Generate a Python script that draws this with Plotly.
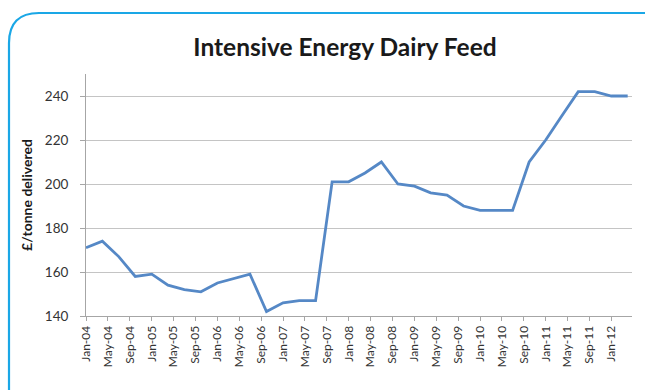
import plotly.graph_objects as go

# ---- data (quarterly) ----
dates = [
    "2004-01-01", "2004-04-01", "2004-07-01", "2004-10-01",
    "2005-01-01", "2005-04-01", "2005-07-01", "2005-10-01",
    "2006-01-01", "2006-04-01", "2006-07-01", "2006-10-01",
    "2007-01-01", "2007-04-01", "2007-07-01", "2007-10-01",
    "2008-01-01", "2008-04-01", "2008-07-01", "2008-10-01",
    "2009-01-01", "2009-04-01", "2009-07-01", "2009-10-01",
    "2010-01-01", "2010-04-01", "2010-07-01", "2010-10-01",
    "2011-01-01", "2011-04-01", "2011-07-01", "2011-10-01",
    "2012-01-01", "2012-04-01",
]
price = [
    171, 174, 167, 158,
    159, 154, 152, 151,
    155, 157, 159, 142,
    146, 147, 147, 201,
    201, 205, 210, 200,
    199, 196, 195, 190,
    188, 188, 188, 210,
    220, 231, 242, 242,
    240, 240,
]
y_ticks = [140, 160, 180, 200, 220, 240]

title_text = "Intensive Energy Dairy Feed"
y_title = "£/tonne delivered"

W, H = 645, 390
ML, MR, MT, MB = 86, 13, 74, 74

fig = go.Figure()
fig.add_trace(go.Scatter(
    x=dates, y=price, mode="lines",
    line=dict(color="#5588c6", width=2.8),
    hoverinfo="skip", showlegend=False,
))

# rounded frame (pixel -> paper helper)
def px(x):
    return (x - ML) / (W - ML - MR)

def py(y):
    return (H - MB - y) / (H - MT - MB)

r = 30
x0, y0 = 9, 13
path = (
    f"M {px(x0)},{py(400)} "
    f"L {px(x0)},{py(y0 + r)} "
    f"Q {px(x0)},{py(y0)} {px(x0 + r)},{py(y0)} "
    f"L {px(660)},{py(y0)}"
)
fig.add_shape(type="path", path=path, xref="paper", yref="paper",
              line=dict(color="#1aa7e6", width=2.2), layer="above")

fig.update_layout(
    width=W, height=H,
    margin=dict(l=ML, r=MR, t=MT, b=MB),
    paper_bgcolor="white", plot_bgcolor="white",
    title=dict(
        text=f"<b>{title_text}</b>",
        x=345 / W, xref="container", xanchor="center",
        y=1 - 47 / H, yref="container", yanchor="middle",
        font=dict(family="Lato", size=24.5, color="#1a1a1a"),
    ),
    font=dict(family="Lato", color="#404040"),
)

fig.update_xaxes(
    type="date",
    range=["2004-01-01", "2012-04-25"],
    tick0="2004-01-01", dtick="M4", tickformat="%b-%y",
    tickangle=-90,
    ticks="outside", ticklen=4, tickcolor="#a6a6a6",
    showline=True, linecolor="#a6a6a6", linewidth=1,
    showgrid=False, zeroline=False,
    tickfont=dict(family="Lato", size=12, color="#333333"),
)
fig.update_yaxes(
    range=[140, 250],
    tickvals=y_ticks,
    ticks="outside", ticklen=5, tickcolor="#a6a6a6",
    ticklabelstandoff=9,
    showline=True, linecolor="#a6a6a6", linewidth=1,
    showgrid=True, gridcolor="#c4c4c4", gridwidth=1,
    zeroline=False,
    tickfont=dict(family="Lato", size=13.5, color="#333333"),
    title=dict(text=f"<b>{y_title}</b>", standoff=8,
               font=dict(family="Lato", size=14, color="#1a1a1a")),
)

fig.write_html("out.html")
